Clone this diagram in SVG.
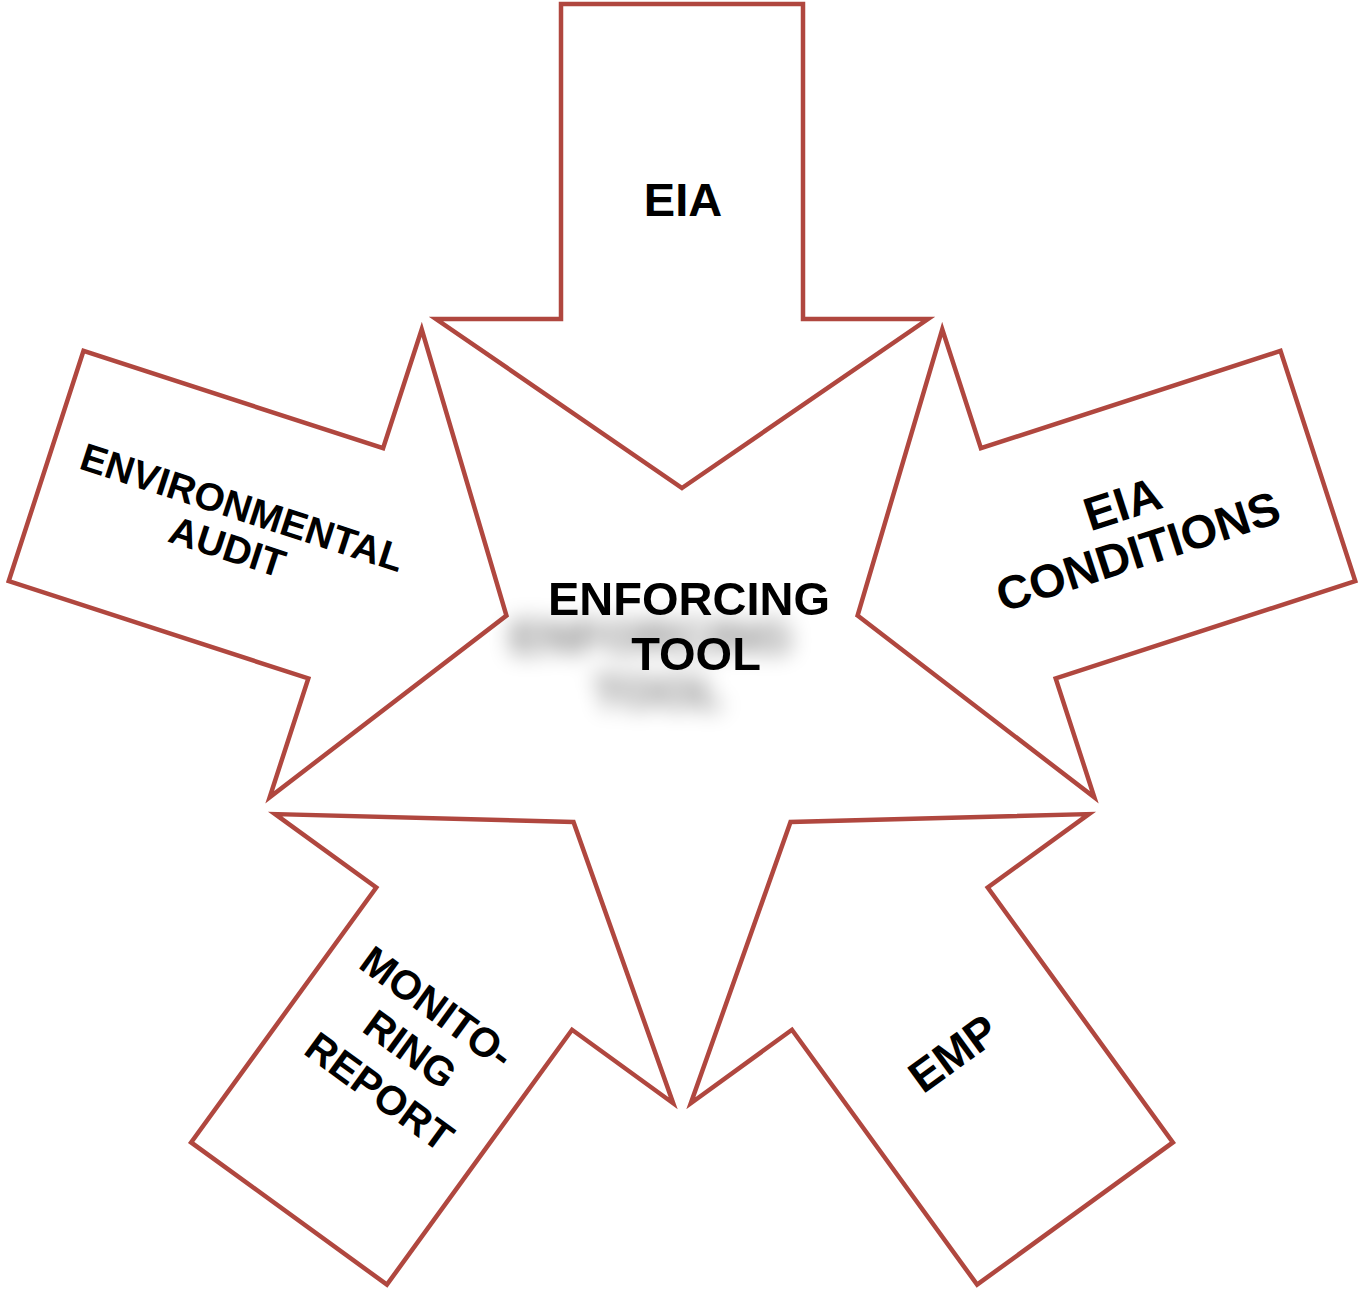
<svg xmlns="http://www.w3.org/2000/svg" xmlns:xlink="http://www.w3.org/1999/xlink" width="1361" height="1293" viewBox="0 0 1361 1293">
<style>
.arrow{fill:#ffffff;stroke:#b0473f;stroke-width:4.5;stroke-linejoin:miter;stroke-miterlimit:10}
.lbl{font-family:"Liberation Sans",Arial,sans-serif;font-weight:bold;fill:#000;text-anchor:middle}
</style>
<defs>
<polygon id="arr" class="arrow" points="0,-184.6 246,-353.6 121,-353.6 121,-668.6 -121,-668.6 -121,-353.6 -246,-353.6"/>
<filter id="shadow" x="-40%" y="-40%" width="180%" height="220%">
<feGaussianBlur in="SourceAlpha" stdDeviation="11" result="b"/>
<feOffset in="b" dx="-38" dy="38" result="o"/>
<feComponentTransfer in="o" result="s"><feFuncA type="linear" slope="0.5"/></feComponentTransfer>
<feMerge><feMergeNode in="s"/><feMergeNode in="SourceGraphic"/></feMerge>
</filter>
</defs>
<rect width="1361" height="1293" fill="#ffffff"/>
<g id="connectors"></g>
<g id="node-eia">
<use xlink:href="#arr" href="#arr" transform="translate(682,672.6)"/>
<text class="lbl" x="683" y="216" font-size="47">EIA</text>
</g>
<g id="node-eia-conditions">
<use xlink:href="#arr" href="#arr" transform="translate(682,672.6) rotate(72)"/>
<g transform="translate(1130,527) rotate(-18)">
<text class="lbl" x="0" y="-8" font-size="47">EIA</text>
<text class="lbl" x="0" y="42" font-size="47">CONDITIONS</text>
</g>
</g>
<g id="node-emp">
<use xlink:href="#arr" href="#arr" transform="translate(682,672.6) rotate(144)"/>
<g transform="translate(953,1053) rotate(-36)">
<text class="lbl" x="0" y="16" font-size="45">EMP</text>
</g>
</g>
<g id="node-monitoring-report">
<use xlink:href="#arr" href="#arr" transform="translate(682,672.6) rotate(216)"/>
<g transform="translate(410.5,1049) rotate(36)">
<text class="lbl" x="-3" y="-35" font-size="41">MONITO-</text>
<text class="lbl" x="0" y="14.7" font-size="41">RING</text>
<text class="lbl" x="0" y="67" font-size="41">REPORT</text>
</g>
</g>
<g id="node-environmental-audit">
<use xlink:href="#arr" href="#arr" transform="translate(682,672.6) rotate(288)"/>
<g transform="translate(236,527) rotate(18)">
<text class="lbl" x="0" y="-7" font-size="39">ENVIRONMENTAL</text>
<text class="lbl" x="-2" y="35" font-size="39">AUDIT</text>
</g>
</g>
<g id="node-enforcing-tool">
<text class="lbl" font-size="47" filter="url(#shadow)"><tspan x="689" y="615">ENFORCING</tspan><tspan x="696" y="670">TOOL</tspan></text>
</g>
</svg>
